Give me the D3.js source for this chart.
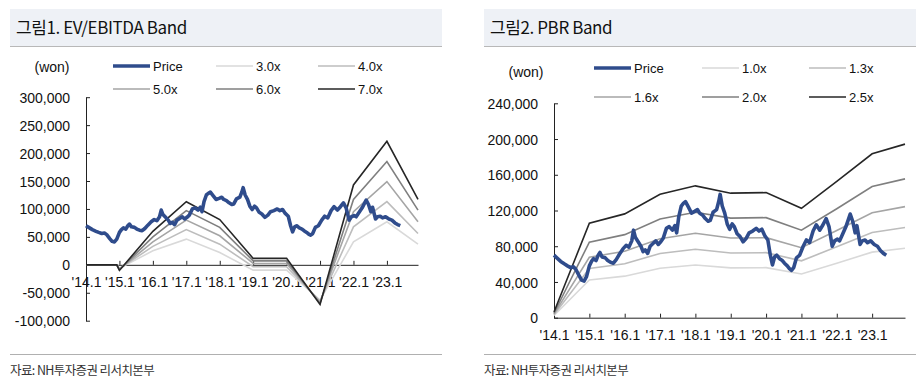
<!DOCTYPE html>
<html>
<head>
<meta charset="utf-8">
<script src="https://cdn.jsdelivr.net/npm/d3@7"></script>
<style>
  body { margin: 0; background: #fff; }
  svg text { font-family: 'Liberation Sans Narrow', 'Arial Narrow', 'Liberation Sans', Arial, sans-serif; font-size: 14px; fill: #111; }
  svg text.title { font-family: 'Noto Sans CJK KR', sans-serif; font-size: 17px; letter-spacing: -0.4px; fill: #111; }
  svg text.src { font-family: 'Noto Sans CJK KR', sans-serif; font-size: 12.5px; letter-spacing: -0.6px; fill: #333; }
  svg text.leg { font-size: 13px; }
</style>
</head>
<body>
<svg id="chart" width="922" height="387"></svg>
<script>

// price (won), read weekly-ish off the chart: [year, value]
var priceSeries = [
  [2014.00, 70000], [2014.08, 67000], [2014.19, 63000], [2014.30, 60000], [2014.38, 58000],
  [2014.47, 56000], [2014.55, 57000], [2014.62, 54000], [2014.71, 47000], [2014.78, 42000],
  [2014.85, 41000], [2014.92, 46000], [2015.00, 58000], [2015.06, 63000], [2015.12, 66000],
  [2015.19, 64000], [2015.25, 70000], [2015.30, 73000], [2015.36, 68000], [2015.45, 67000],
  [2015.52, 64000], [2015.60, 62000], [2015.68, 61000], [2015.76, 65000], [2015.85, 71000],
  [2015.95, 77000], [2016.04, 81000], [2016.12, 79000], [2016.20, 86000], [2016.25, 98000],
  [2016.30, 90000], [2016.38, 85000], [2016.46, 80000], [2016.52, 74000], [2016.58, 76000],
  [2016.65, 72000], [2016.72, 80000], [2016.80, 83000], [2016.88, 86000], [2016.95, 82000],
  [2017.02, 85000], [2017.09, 89000], [2017.18, 100000], [2017.26, 102000], [2017.35, 98000],
  [2017.42, 103000], [2017.47, 95000], [2017.53, 113000], [2017.60, 125000], [2017.66, 128000],
  [2017.72, 130000], [2017.80, 124000], [2017.89, 117000], [2017.98, 119000], [2018.06, 121000],
  [2018.12, 117000], [2018.20, 115000], [2018.28, 111000], [2018.36, 108000], [2018.42, 109000],
  [2018.50, 118000], [2018.60, 121000], [2018.66, 130000], [2018.70, 138000], [2018.76, 125000],
  [2018.83, 117000], [2018.90, 105000], [2018.97, 99000], [2019.04, 105000], [2019.10, 102000],
  [2019.18, 94000], [2019.26, 91000], [2019.35, 85000], [2019.44, 89000], [2019.52, 95000],
  [2019.62, 97000], [2019.72, 100000], [2019.80, 97000], [2019.88, 99000], [2019.96, 92000],
  [2020.05, 87000], [2020.12, 70000], [2020.18, 59000], [2020.24, 68000], [2020.30, 70000],
  [2020.38, 66000], [2020.46, 64000], [2020.52, 61000], [2020.60, 58000], [2020.66, 55000],
  [2020.72, 53000], [2020.78, 56000], [2020.86, 67000], [2020.95, 70000], [2021.05, 80000],
  [2021.14, 87000], [2021.23, 84000], [2021.33, 97000], [2021.42, 104000], [2021.52, 98000],
  [2021.61, 104000], [2021.70, 111000], [2021.78, 102000], [2021.87, 80000], [2021.94, 86000],
  [2022.02, 88000], [2022.08, 86000], [2022.17, 94000], [2022.26, 102000], [2022.38, 116000],
  [2022.45, 108000], [2022.52, 95000], [2022.57, 103000], [2022.66, 82000], [2022.72, 86000],
  [2022.80, 87000], [2022.87, 84000], [2022.96, 86000], [2023.06, 82000], [2023.15, 80000],
  [2023.24, 75000], [2023.32, 72000], [2023.40, 70000]
];

// EV/EBITDA band
var evDates = [2014.0, 2014.92, 2015.0, 2016.0, 2017.0, 2018.0, 2019.0, 2020.0, 2021.0, 2022.0, 2023.0, 2023.93];
var ev30 = [0, 0, -6000, 25000, 46000, 22000, -9500, -9500, -63000, 41000, 77000, 37000];
var ev40 = [0, 0, -7000, 33000, 63000, 37000, -3500, -3500, -65000, 68000, 113000, 56000];
var ev50 = [0, 0, -8000, 41000, 80000, 52000, 2500, 2500, -67000, 95000, 149000, 77000];
var ev60 = [0, 0, -9000, 50000, 97000, 67000, 7000, 7000, -69000, 117000, 185000, 98000];
var ev70 = [0, 0, -10000, 60000, 113000, 81000, 11500, 11500, -71000, 143000, 221000, 117000];
var evLabels = ["3.0x", "4.0x", "5.0x", "6.0x", "7.0x"];
var evTicks = [-100000, -50000, 0, 50000, 100000, 150000, 200000, 250000, 300000];

// PBR band
var pbrDates = [2014.0, 2015.0, 2016.0, 2017.0, 2018.0, 2019.0, 2020.0, 2021.0, 2022.0, 2023.0, 2023.93];
var pbr10 = [2500, 42300, 46500, 55300, 59000, 55800, 56000, 49000, 61000, 73400, 77700];
var pbr13 = [3300, 55000, 60400, 71900, 76700, 72500, 72800, 63700, 79300, 95400, 101000];
var pbr16 = [4000, 67700, 74400, 88400, 94500, 89200, 89600, 78400, 97600, 117400, 124300];
var pbr20 = [5000, 84600, 93000, 110600, 118000, 111500, 112000, 98000, 122000, 146800, 155400];
var pbr25 = [6300, 105800, 116200, 138200, 147600, 139400, 140000, 122500, 152500, 183500, 194300];
var pbrLabels = ["1.0x", "1.3x", "1.6x", "2.0x", "2.5x"];
var pbrTicks = [0, 40000, 80000, 120000, 160000, 200000, 240000];

var yearTicks = [2014, 2015, 2016, 2017, 2018, 2019, 2020, 2021, 2022, 2023];

var bandColors = ["#d9d9d9", "#bdbdbd", "#a5a5a5", "#7f7f7f", "#262626"];
var priceColor = "#2f4c8c";

var svg = d3.select("#chart");

var numFmt = function(d) { return d3.format(",")(d).replace("\u2212", "-"); };

function drawPanel(p) {
  var g = svg.append("g");

  // title bar + footer
  g.append("rect")
      .attr("x", p.left).attr("y", 9)
      .attr("width", 432).attr("height", 37)
      .attr("fill", "#eef1f6");
  g.append("line")
      .attr("x1", p.left).attr("x2", p.left + 432)
      .attr("y1", 46.5).attr("y2", 46.5)
      .attr("stroke", "#b8b8b8");
  g.append("text").attr("class", "title")
      .attr("x", p.left + 6).attr("y", 34)
      .text(p.title);
  g.append("line")
      .attr("x1", p.left).attr("x2", p.left + 432)
      .attr("y1", 354.5).attr("y2", 354.5)
      .attr("stroke", "#b0b0b0");
  g.append("text").attr("class", "src")
      .attr("x", p.left).attr("y", 375)
      .text("자료: NH투자증권 리서치본부");

  var x = d3.scaleLinear().domain([2014, 2023.93]).range([p.x0, p.x1]);
  var y = d3.scaleLinear().domain(p.yDomain).range([p.yBottom, p.yTop]);

  var line = d3.line()
      .x(function(d) { return x(d[0]); })
      .y(function(d) { return y(d[1]); });

  // axes
  g.append("g")
      .attr("transform", "translate(" + p.x0 + ",0)")
      .attr("color", "#222")
      .call(d3.axisLeft(y).tickValues(p.yTicks).tickSize(-4).tickSizeOuter(0)
            .tickPadding(16).tickFormat(numFmt))
      .call(function(a) { a.selectAll("text").attr("dy", "0.36em"); });

  g.append("g")
      .attr("transform", "translate(0," + y(p.xAxisAt) + ")")
      .attr("color", "#222")
      .call(d3.axisBottom(x).tickValues(yearTicks).tickSize(-4).tickSizeOuter(0)
            .tickPadding(12).tickFormat(function(d) { return "'" + String(d).slice(2) + ".1"; }));

  // bands
  p.bands.forEach(function(b, i) {
    g.append("path")
        .datum(p.bandDates.map(function(d, j) { return [d, b[j]]; }))
        .attr("d", line)
        .attr("fill", "none")
        .attr("stroke", bandColors[i])
        .attr("stroke-width", 1.6);
  });

  // price
  g.append("path")
      .datum(priceSeries)
      .attr("d", line)
      .attr("fill", "none")
      .attr("stroke", priceColor)
      .attr("stroke-width", 3.6)
      .attr("stroke-linejoin", "round");

  // legend
  g.append("text")
      .attr("x", p.wonX).attr("y", p.wonY)
      .attr("dy", "0.36em")
      .attr("text-anchor", "middle")
      .text("(won)");

  var items = ["Price"].concat(p.labels);
  var colors = [priceColor].concat(bandColors);
  items.forEach(function(name, i) {
    var lx = p.legX[i % 3], ly = p.legY[Math.floor(i / 3)];
    g.append("line")
        .attr("x1", lx).attr("x2", lx + 37)
        .attr("y1", ly).attr("y2", ly)
        .attr("stroke", colors[i])
        .attr("stroke-width", i == 0 ? 3.6 : 1.6);
    g.append("text").attr("class", "leg")
        .attr("x", lx + 40).attr("y", ly)
        .attr("dy", "0.36em")
        .text(name);
  });
}

drawPanel({
  left: 10,
  title: "그림1. EV/EBITDA Band",
  x0: 86, x1: 418,
  yDomain: [-100000, 300000], yBottom: 320.7, yTop: 97.2,
  yTicks: evTicks, xAxisAt: 0,
  bandDates: evDates, bands: [ev30, ev40, ev50, ev60, ev70],
  labels: evLabels,
  wonX: 52, wonY: 67,
  legX: [113, 216, 318], legY: [66, 89]
});

drawPanel({
  left: 484,
  title: "그림2. PBR Band",
  x0: 554, x1: 905,
  yDomain: [0, 240000], yBottom: 317.7, yTop: 103.3,
  yTicks: pbrTicks, xAxisAt: 0,
  bandDates: pbrDates, bands: [pbr10, pbr13, pbr16, pbr20, pbr25],
  labels: pbrLabels,
  wonX: 526, wonY: 72,
  legX: [594, 702, 809], legY: [68, 97]
});

</script>
</body>
</html>
